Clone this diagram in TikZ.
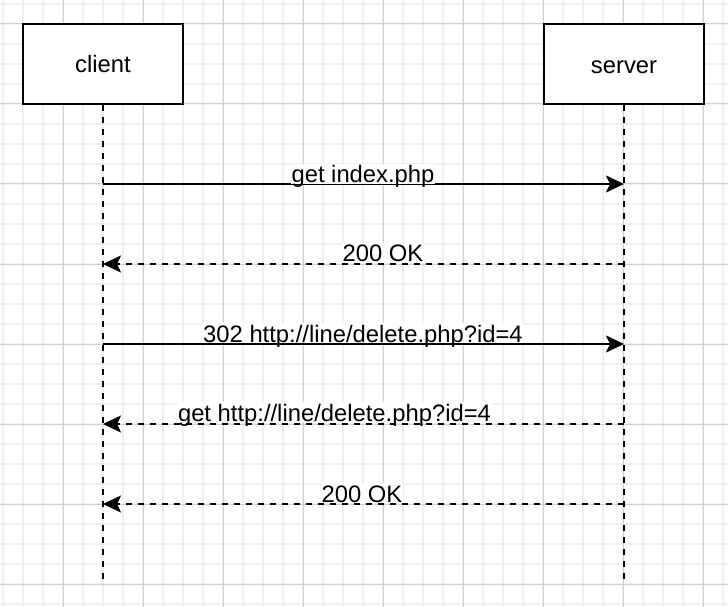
\documentclass[tikz,border=0pt]{standalone}
\usepackage{fontspec}
\setmainfont{Liberation Sans}
\usetikzlibrary{arrows.meta}
\definecolor{gridminor}{HTML}{F0F0F0}
\definecolor{gridmajor}{HTML}{D0D0D0}
\tikzset{
  actor/.style={draw=black, line width=2bp, fill=white, minimum width=160bp, minimum height=80bp, inner sep=0pt},
  lifeline/.style={line width=2bp, dash pattern=on 6bp off 6bp},
  msgtip/.style={-{Stealth[length=18bp,width=17bp,inset=4bp]}},
  callmsg/.style={msgtip, line width=2bp},
  replymsg/.style={msgtip, line width=2bp, dash pattern=on 6bp off 6bp},
  msglabel/.style={anchor=base, fill=white, inner xsep=1bp, inner ysep=1bp, text height=18bp, text depth=0pt},
  actortext/.style={anchor=base, inner sep=0pt},
}
\begin{document}
\begin{tikzpicture}[x=1bp,y=-1bp]
\fontsize{23.8bp}{28bp}\selectfont
\useasboundingbox (0,0) rectangle (728,607);
\fill[white] (0,0) rectangle (728,607);
% grid
\foreach \gx in {3,23,...,723} \draw[gridminor, line width=2bp] (\gx,0) -- (\gx,607);
\foreach \gy in {4,24,...,604} \draw[gridminor, line width=2bp] (0,\gy) -- (728,\gy);
\foreach \gx in {63,143,...,703} \draw[gridmajor, line width=1bp] (\gx,0) -- (\gx,607);
\foreach \gy in {24,104,...,584} \draw[gridmajor, line width=1bp] (0,\gy) -- (728,\gy);
% actors
\node[actor] (client) at (103,64) {};
\node[actor] (server) at (624,64) {};
\node[actortext] (clientlbl) at (103,72.7) {client};
\node[actortext] (serverlbl) at (624,73.2) {server};
% lifeline ends
\coordinate (cend) at (103,584);
\coordinate (send) at (624,584);
\draw[lifeline] (client.south) -- (cend);
\draw[lifeline] (server.south) -- (send);
% message points
\foreach \i/\yy in {1/184,2/264,3/344,4/424,5/504} {
  \coordinate (c\i) at (103,\yy);
  \coordinate (s\i) at (624,\yy);
}
\draw[callmsg] (c1) -- (s1);
\draw[replymsg] (s2) -- (c2);
\draw[callmsg] (c3) -- (s3);
\draw[replymsg] (s4) -- (c4);
\draw[replymsg] (s5) -- (c5);
% labels
\node[msglabel] (l1) at (363,182.7) {get index.php};
\node[msglabel] (l2) at (383,261.7) {200 OK};
\node[msglabel] (l3) at (363,342.3) {302 http://line/delete.php?id=4};
\node[msglabel] (l4) at (334.5,421) {get http://line/delete.php?id=4};
\node[msglabel] (l5) at (362,502.3) {200 OK};
\end{tikzpicture}
\end{document}
